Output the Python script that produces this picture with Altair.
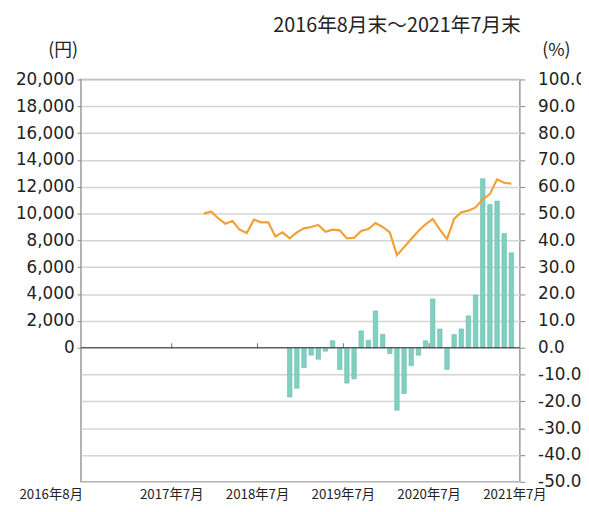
import altair as alt
import pandas as pd

# ---- data ----
start_year, start_month, n_months = 2016, 8, 60
month_labels = []
_y, _m = start_year, start_month
for _ in range(n_months):
    month_labels.append(f"{_y}年{_m}月")
    _m += 1
    if _m > 12:
        _m, _y = 1, _y + 1

nav_start = 16  # 2017年12月
nav_values = [10000, 10150, 9650, 9250, 9450, 8800, 8550, 9550, 9350, 9350,
              8300, 8600, 8150, 8600, 8900, 9000, 9150, 8650, 8800, 8750,
              8150, 8200, 8700, 8850, 9300, 9000, 8600, 6900, 7500, 8100,
              8700, 9200, 9600, 8800, 8100, 9600, 10100, 10220, 10460, 11070,
              11450, 12550, 12300, 12230]

ret_start = 28  # 2018年12月
ret_values = [-18.4, -15.1, -7.4, -2.8, -4.3, -1.3, 2.6, -8.1, -13.2, -11.6,
              6.3, 2.8, 13.7, 5.0, -2.2, -23.3, -17.1, -6.7, -2.8, 2.6,
              18.2, 7.0, -8.1, 4.9, 7.0, 11.9, 19.6, 63.0, 53.4, 54.7,
              42.6, 35.4]

tick_positions = [0, 12, 24, 36, 48, 60]
tick_labels = ["2016年8月", "2017年7月", "2018年7月", "2019年7月", "2020年7月", "2021年7月"]
yen_ticks = list(range(0, 20001, 2000))
pct_ticks = list(range(-50, 101, 10))
title_text = "2016年8月末～2021年7月末"

nav_df = pd.DataFrame({
    "pos": [nav_start + k + 0.5 for k in range(len(nav_values))],
    "month": month_labels[nav_start:nav_start + len(nav_values)],
    "nav": nav_values,
})
ret_df = pd.DataFrame({
    "pos": [ret_start + k + 0.5 for k in range(len(ret_values))],
    "month": month_labels[ret_start:ret_start + len(ret_values)],
    "ret": ret_values,
})
mark_df = pd.DataFrame({"pos": tick_positions[1:-1], "v": [0] * (len(tick_positions) - 2)})
first_lbl_df = pd.DataFrame({"pos": tick_positions[:1], "label": tick_labels[:1]})
other_lbl_df = pd.DataFrame({"pos": tick_positions[1:], "label": tick_labels[1:]})

FONT = "Noto Sans CJK JP"
NUMFONT = "DejaVu Sans"

x_scale = alt.Scale(domain=[0, n_months], nice=False, zero=False)
pct_scale = alt.Scale(domain=[-50, 100], nice=False, zero=False)
yen_scale = alt.Scale(domain=[-10000, 20000], nice=False, zero=False)

bars = alt.Chart(ret_df).mark_bar(size=4.6, color="#80d0c2", stroke="#5db3a5",
                                  strokeWidth=0.5).encode(
    x=alt.X("pos:Q", scale=x_scale, axis=None),
    y=alt.Y("ret:Q", scale=pct_scale,
            axis=alt.Axis(orient="right", values=pct_ticks,
                          labelExpr="replace(format(datum.value, '.1f'), '\u2212', '-')",
                          grid=True, gridColor="#d4d4d4", gridWidth=1.5,
                          domain=False, tickColor="#888", tickSize=5,
                          labelPadding=13, labelFontSize=17, labelColor="#222",
                          labelFont=NUMFONT, labelAlign="left", title=None)),
)

zero_rule = alt.Chart(pd.DataFrame({"v": [0]})).mark_rule(
    color="#333", strokeWidth=1.2).encode(
    y=alt.Y("v:Q", scale=pct_scale, axis=None))

zero_ticks = alt.Chart(mark_df).mark_tick(
    color="#333", size=5, thickness=1, orient="vertical", yOffset=-2).encode(
    x=alt.X("pos:Q", scale=x_scale, axis=None),
    y=alt.Y("v:Q", scale=pct_scale, axis=None))

line = alt.Chart(nav_df).mark_line(color="#f0a035", strokeWidth=2.2).encode(
    x=alt.X("pos:Q", scale=x_scale, axis=None),
    y=alt.Y("nav:Q", scale=yen_scale,
            axis=alt.Axis(orient="left", values=yen_ticks, format=",.0f",
                          grid=False, domain=False, tickColor="#888",
                          tickSize=4, labelPadding=3, labelFontSize=17,
                          labelColor="#222", labelFont=NUMFONT, title=None)),
)

first_lbl = alt.Chart(first_lbl_df).mark_text(
    align="right", baseline="middle", fontSize=13.5, font=FONT, color="#222", dx=-3
).encode(x=alt.X("pos:Q", scale=x_scale, axis=None), y=alt.value(421), text="label:N")
other_lbl = alt.Chart(other_lbl_df).mark_text(
    align="center", baseline="middle", fontSize=13.5, font=FONT, color="#222"
).encode(x=alt.X("pos:Q", scale=x_scale, axis=None), y=alt.value(421), text="label:N")

title_mark = alt.Chart(pd.DataFrame({"t": [title_text]})).mark_text(
    align="right", baseline="middle", fontSize=20, font=FONT, color="#222"
).encode(x=alt.value(446), y=alt.value(-54), text="t:N")
yen_unit = alt.Chart(pd.DataFrame({"t": ["(円)"]})).mark_text(
    align="center", baseline="middle", fontSize=18, font=FONT, color="#222"
).encode(x=alt.value(-18), y=alt.value(-29), text="t:N")
pct_unit = alt.Chart(pd.DataFrame({"t": ["(%)"]})).mark_text(
    align="center", baseline="middle", fontSize=18, font=FONT, color="#222"
).encode(x=alt.value(482), y=alt.value(-29), text="t:N")

chart = alt.layer(bars, zero_rule, zero_ticks, line, first_lbl, other_lbl,
                  title_mark, yen_unit, pct_unit).resolve_scale(
    y="independent"
).properties(
    width=445, height=408,
    autosize=alt.AutoSizeParams(type="none"),
    padding={"left": 74, "top": 69, "right": 62, "bottom": 19},
    background="white",
).configure_view(stroke="#999", strokeWidth=1.5)

chart.save("out.html", embed_options={"renderer": "svg", "actions": False})
